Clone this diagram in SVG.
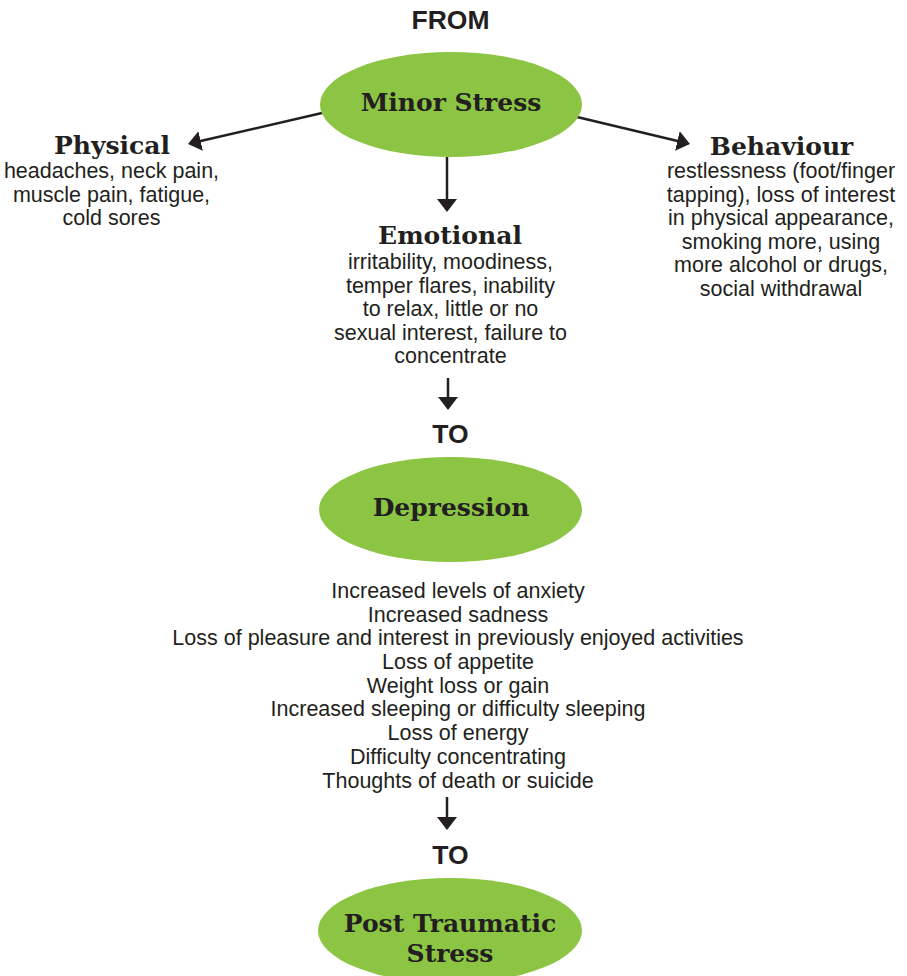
<svg xmlns="http://www.w3.org/2000/svg" width="907" height="976" viewBox="0 0 907 976">
<style>
.bg{fill:#ffffff}
.oval{fill:#8cc443}
.head{font-family:"DejaVu Serif","Liberation Serif",serif;font-weight:bold;font-size:25px;fill:#231f20;text-anchor:middle}
.body{font-family:"Liberation Sans",Arial,sans-serif;font-size:21.5px;fill:#231f20;text-anchor:middle}
.cap{font-family:"Liberation Sans",Arial,sans-serif;font-weight:bold;font-size:26.5px;fill:#231f20;text-anchor:middle}
.conn{stroke:#231f20;stroke-width:2.5;fill:none;marker-end:url(#arr)}
</style>
<defs>
<marker id="arr" viewBox="0 0 13 20" refX="10" refY="10" markerWidth="13" markerHeight="20" markerUnits="userSpaceOnUse" orient="auto">
<path d="M0,0 L13,10 L0,20 z" fill="#231f20"/>
</marker>
</defs>
<rect class="bg" x="0" y="0" width="907" height="976"/>
<g id="label-from"><text class="cap" x="450.5" y="29">FROM</text></g>
<g id="label-to-1"><text class="cap" x="450.5" y="443">TO</text></g>
<g id="label-to-2"><text class="cap" x="450.5" y="864">TO</text></g>
<g id="connectors">
<path class="conn" d="M322,113 L190.9,143.3"/>
<path class="conn" d="M577,117 L687.1,143.3"/>
<path class="conn" d="M447,157 L447,209"/>
<path class="conn" d="M448,378 L448,407"/>
<path class="conn" d="M447,797 L447,827"/>
</g>
<g id="node-minor-stress">
<ellipse class="oval" cx="451" cy="104.5" rx="131" ry="52.5"/>
<text class="head" x="451" y="111">Minor Stress</text>
</g>
<g id="node-physical">
<text class="head" x="112" y="154">Physical</text>
<text class="body" x="111.5" y="178">headaches, neck pain,</text>
<text class="body" x="111.5" y="201.5">muscle pain, fatigue,</text>
<text class="body" x="111.5" y="225">cold sores</text>
</g>
<g id="node-behaviour">
<text class="head" x="781.5" y="155">Behaviour</text>
<text class="body" x="781" y="178">restlessness (foot/finger</text>
<text class="body" x="781" y="201.5">tapping), loss of interest</text>
<text class="body" x="781" y="225">in physical appearance,</text>
<text class="body" x="781" y="248.5">smoking more, using</text>
<text class="body" x="781" y="272">more alcohol or drugs,</text>
<text class="body" x="781" y="295.5">social withdrawal</text>
</g>
<g id="node-emotional">
<text class="head" x="450" y="244">Emotional</text>
<text class="body" x="450.5" y="269">irritability, moodiness,</text>
<text class="body" x="450.5" y="292.5">temper flares, inability</text>
<text class="body" x="450.5" y="316">to relax, little or no</text>
<text class="body" x="450.5" y="339.5">sexual interest, failure to</text>
<text class="body" x="450.5" y="363">concentrate</text>
</g>
<g id="node-depression">
<ellipse class="oval" cx="450.5" cy="509.5" rx="131.5" ry="52.5"/>
<text class="head" x="451" y="516">Depression</text>
</g>
<g id="node-depression-symptoms">
<text class="body" x="458" y="598">Increased levels of anxiety</text>
<text class="body" x="458" y="621.5">Increased sadness</text>
<text class="body" x="458" y="645">Loss of pleasure and interest in previously enjoyed activities</text>
<text class="body" x="458" y="669">Loss of appetite</text>
<text class="body" x="458" y="692.5">Weight loss or gain</text>
<text class="body" x="458" y="716">Increased sleeping or difficulty sleeping</text>
<text class="body" x="458" y="740">Loss of energy</text>
<text class="body" x="458" y="764">Difficulty concentrating</text>
<text class="body" x="458" y="787.5">Thoughts of death or suicide</text>
</g>
<g id="node-ptsd">
<ellipse class="oval" cx="450" cy="930.5" rx="132" ry="52.5"/>
<text class="head" x="450" y="932">Post Traumatic</text>
<text class="head" x="450" y="962">Stress</text>
</g>
</svg>
